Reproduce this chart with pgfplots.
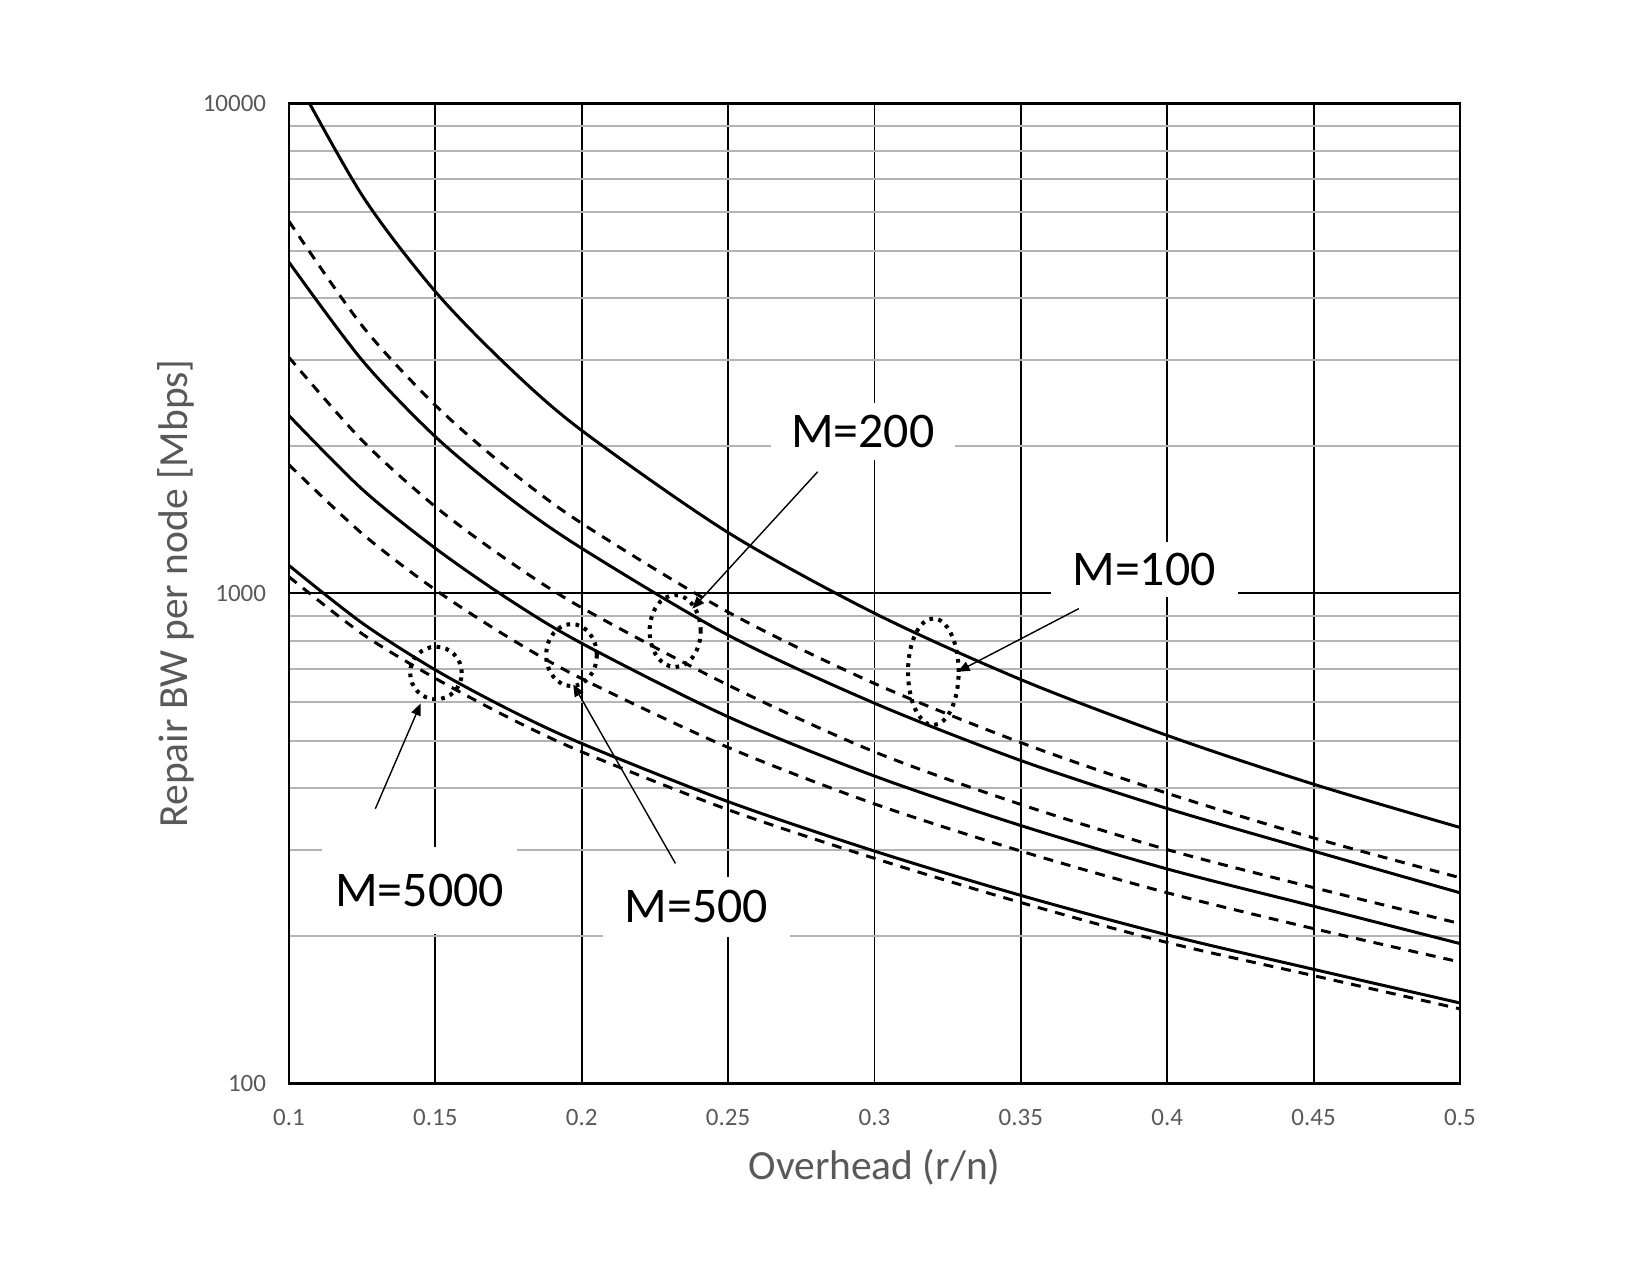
\documentclass[border=0pt]{standalone}
\usepackage{pgfplots}
\pgfplotsset{compat=1.18}
\usetikzlibrary{arrows.meta}
\usepackage{fontspec}
\setmainfont{Carlito}
\definecolor{lbl}{HTML}{595959}
\definecolor{mgrid}{HTML}{B4B4B4}
\tikzset{
  solidc/.style={black, line width=0.85pt, smooth},
  dashc/.style={black, line width=0.85pt, smooth, dash pattern=on 2.8pt off 2.3pt},
  dotc/.style={black, line width=1.15pt, dash pattern=on 1.05pt off 1.55pt},
  arr/.style={black, line width=0.4pt, -{Triangle[length=3.4pt,width=2.8pt]}},
  lab/.style={fill=white, inner sep=0pt, font=\fontsize{14.2}{16}\selectfont, text=black},
}
\begin{document}
\begin{tikzpicture}
\useasboundingbox (-2.89cm,-1.915cm) rectangle (13.61cm,10.835cm);
\begin{axis}[
  at={(0,0)}, anchor=south west,
  scale only axis, width=11.71cm, height=9.802cm,
  xmin=0.1, xmax=0.5,
  ymode=log, log basis y=10, ymin=100, ymax=10000,
  xtick={0.1,0.15,0.2,0.25,0.3,0.35,0.4,0.45,0.5},
  xticklabels={0.1,0.15,0.2,0.25,0.3,0.35,0.4,0.45,0.5},
  ytick={100,1000,10000}, yticklabels={100,1000,10000},
  minor ytick={200,300,400,500,600,700,800,900,2000,3000,4000,5000,6000,7000,8000,9000},
  major tick length=0pt, minor tick length=0pt,
  xmajorgrids=true, ymajorgrids=true, yminorgrids=true,
  major grid style={black, line width=0.55pt},
  minor grid style={mgrid, line width=0.55pt},
  axis line style={black, line width=0.7pt},
  tick label style={font=\fontsize{7.1}{8}\selectfont, text=lbl},
  xticklabel style={yshift=-3.8pt},
  yticklabel style={xshift=-3.0pt},
  xlabel={Overhead (r/n)}, ylabel={Repair BW per node [Mbps]},
  label style={font=\fontsize{11.8}{14}\selectfont, text=lbl},
  xlabel style={at={(axis description cs:0.5,-0.0852)}, anchor=center},
  ylabel style={at={(axis description cs:-0.0968,0.5)}, anchor=center},
  /pgf/number format/assume math mode=true,
]
% M=100
\addplot[solidc] table {
0.1 11941
0.125 6488
0.15 4128
0.175 2896
0.2 2150
0.25 1331
0.3 911
0.35 667
0.4 513
0.45 408
0.5 333
};
\addplot[dashc] table {
0.1 5744
0.125 3516
0.15 2420
0.175 1792
0.2 1390
0.25 916
0.3 655
0.35 496
0.4 391
0.45 317
0.5 263
};
% M=200
\addplot[solidc] table {
0.1 4740
0.125 2990
0.15 2088
0.175 1570
0.2 1236
0.25 822
0.3 597
0.35 456
0.4 364
0.45 298
0.5 245
};
\addplot[dashc] table {
0.1 3030
0.125 2051
0.15 1503
0.175 1165
0.2 935
0.25 650
0.3 475
0.35 371
0.4 300
0.45 251
0.5 212
};
% M=500
\addplot[solidc] table {
0.1 2305
0.125 1631
0.15 1236
0.175 973
0.2 791
0.25 560
0.3 424
0.35 336
0.4 274
0.45 230
0.5 193
};
\addplot[dashc] table {
0.1 1830
0.125 1324
0.15 1017
0.175 813
0.2 670
0.25 485
0.3 372
0.35 298
0.4 245
0.45 207
0.5 177
};
% M=5000
\addplot[solidc] table {
0.1 1140
0.125 870
0.15 698
0.175 580
0.2 494
0.25 376
0.3 298
0.35 242
0.4 201
0.45 171
0.5 146
};
\addplot[dashc] table {
0.1 1081
0.125 827
0.15 671
0.175 558
0.2 475
0.25 362
0.3 288
0.35 234
0.4 194
0.45 166
0.5 142
};
% labels
\node[lab, minimum width=1.84cm, minimum height=0.57cm] at (axis cs:0.2960,2137) {M=200};
\node[lab, minimum width=1.87cm, minimum height=0.55cm] at (axis cs:0.3921,1117) {M=100};
\node[lab, minimum width=1.95cm, minimum height=0.87cm] at (axis cs:0.1446,247.3) {M=5000};
\node[lab, minimum width=1.86cm, minimum height=0.60cm] at (axis cs:0.2392,229.6) {M=500};
% ellipses
\draw[dotc] (axis cs:0.1502,688) ellipse [x radius=0.258cm, y radius=0.263cm];
\draw[dotc] (axis cs:0.2319,838) ellipse [x radius=0.255cm, y radius=0.36cm];
\draw[dotc] (axis cs:0.3201,692) ellipse [x radius=0.253cm, y radius=0.533cm];
\draw[dotc] (axis cs:0.1965,748.6) ellipse [x radius=0.253cm, y radius=0.31cm];
% arrows
\draw[arr] (axis cs:0.2806,1771) -- (axis cs:0.2378,931);
\draw[arr] (axis cs:0.3698,931) -- (axis cs:0.3284,692);
\draw[arr] (axis cs:0.1295,363.7) -- (axis cs:0.1450,596.4);
\draw[arr] (axis cs:0.2320,281.2) -- (axis cs:0.1971,652);
\end{axis}
\end{tikzpicture}
\end{document}
